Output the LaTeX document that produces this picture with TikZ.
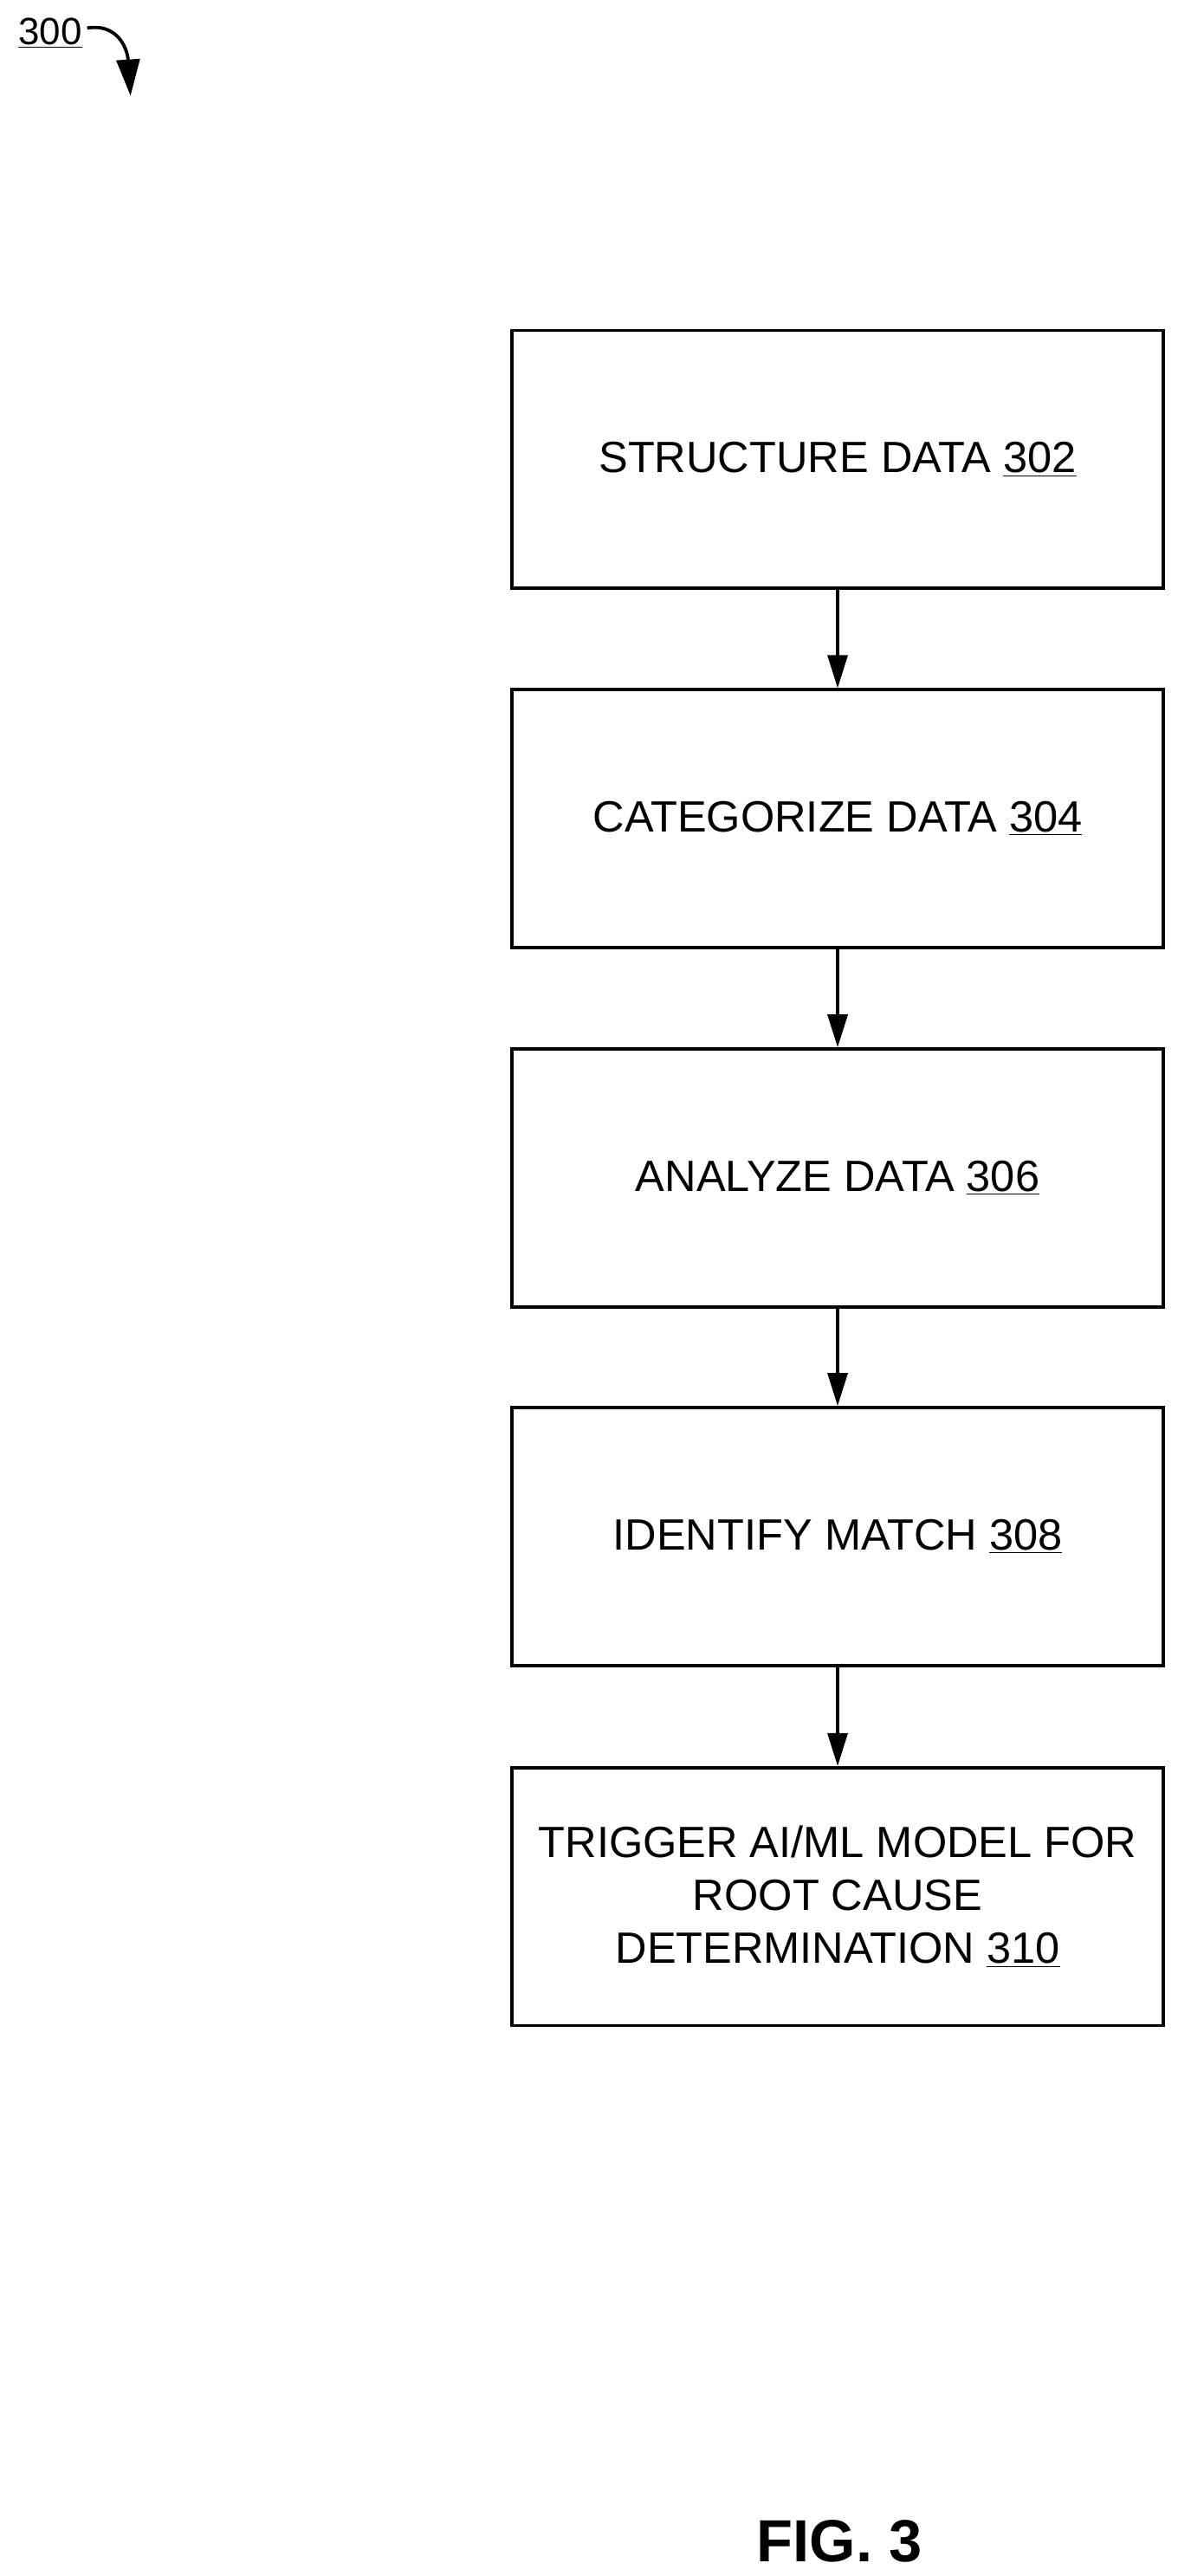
\documentclass[tikz,border=0pt]{standalone}
\usepackage{fontspec}
\setmainfont{Liberation Sans}
\usetikzlibrary{arrows.meta}
\newcommand{\ul}[1]{\underline{#1}}
\begin{document}
\begin{tikzpicture}[x=1pt,y=-1pt,
  box/.style={draw,line width=2pt,minimum width=394pt,minimum height=156pt,align=center,font=\fontsize{26.5}{32}\selectfont,inner sep=0pt},
  arr/.style={line width=2pt,-{Triangle[length=20pt,width=12pt]}}]
\useasboundingbox (0,0) rectangle (713,1559.2);
\node[box] (b1) at (507,278) {STRUCTURE DATA \ul{302}};
\node[box] (b2) at (507,495.5) {CATEGORIZE DATA \ul{304}};
\node[box] (b3) at (507,713) {ANALYZE DATA \ul{306}};
\node[box] (b4) at (507,930) {IDENTIFY MATCH \ul{308}};
\node[box] (b5) at (507,1148) {TRIGGER AI/ML MODEL FOR\\ROOT CAUSE\\DETERMINATION \ul{310}};
\foreach \a/\b in {b1/b2,b2/b3,b3/b4,b4/b5} \draw[arr] (\a.south) -- (\b.north);
\node[font=\fontsize{23}{26}\selectfont,anchor=west,inner sep=0pt] (lbl) at (11,20) {\ul{300}};
\coordinate (tip) at (79,58);
\draw[arr,-{Triangle[length=22pt,width=14pt]}] (lbl.east) ++(3,-3) .. controls (70,14) and (77,28) .. (tip);
\node[font=\bfseries\fontsize{36}{40}\selectfont,inner sep=0pt] (fig) at (508,1538) {FIG. 3};
\end{tikzpicture}
\end{document}
